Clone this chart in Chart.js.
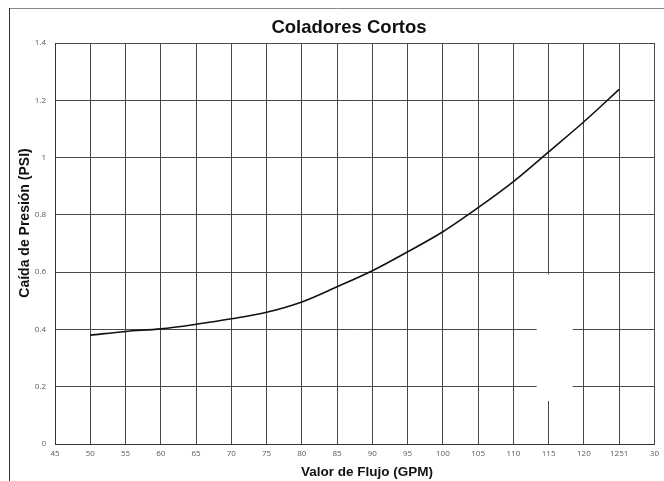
<!DOCTYPE html>
<html>
<head>
<meta charset="utf-8">
<script src="https://cdn.jsdelivr.net/npm/chart.js@4/dist/chart.umd.min.js"></script>
<style>
  html, body { margin: 0; padding: 0; background: #fff; }
  canvas { display: block; }
</style>
</head>
<body>
<canvas id="chart" width="664" height="481"></canvas>
<script>
// Flow rate (GPM) and pressure drop (PSI) for short strainers
const flowGpm = [50, 55, 60, 65, 70, 75, 80, 85, 90, 95, 100, 105, 110, 115, 120, 125];
const dropPsi = [0.380, 0.393, 0.402, 0.418, 0.437, 0.460, 0.496, 0.549, 0.605, 0.671, 0.741, 0.825, 0.916, 1.020, 1.125, 1.238];

// Axis ticks and their printed labels
const xTickValues = [45, 50, 55, 60, 65, 70, 75, 80, 85, 90, 95, 100, 105, 110, 115, 120, 125, 130];
const xTickLabels = ['45', '50', '55', '60', '65', '70', '75', '80', '85', '90', '95', '100', '105', '110', '115', '120', '1251', '30'];
const yTickValues = [0, 0.2, 0.4, 0.6, 0.8, 1.0, 1.2, 1.4];
const yTickLabels = ['0', '0.2', '0.4', '0.6', '0.8', '1', '1.2', '1.4'];

const titleText = 'Coladores Cortos';
const xTitleText = 'Valor de Flujo (GPM)';
const yTitleText = 'Caída de Presión (PSI)';

// Page frame, titles and the blank patch over the grid
const decorations = {
  id: 'decorations',
  beforeDraw(chart) {
    const ctx = chart.ctx;
    ctx.save();
    ctx.fillStyle = '#ffffff';
    ctx.fillRect(0, 0, chart.width, chart.height);
    ctx.lineWidth = 1;
    ctx.strokeStyle = '#888888';
    ctx.beginPath();
    ctx.moveTo(9, 8.5);
    ctx.lineTo(chart.width, 8.5);
    ctx.stroke();
    ctx.strokeStyle = '#333333';
    ctx.beginPath();
    ctx.moveTo(9.5, 8);
    ctx.lineTo(9.5, chart.height);
    ctx.stroke();
    ctx.restore();
  },
  beforeDatasetsDraw(chart) {
    const { ctx, scales: { x, y } } = chart;
    const x0 = x.getPixelForValue(113.3), x1 = x.getPixelForValue(118.4);
    const y0 = y.getPixelForValue(0.592), y1 = y.getPixelForValue(0.15);
    ctx.save();
    ctx.fillStyle = '#ffffff';
    ctx.fillRect(x0, y0, x1 - x0, y1 - y0);
    ctx.restore();
  },
  afterDraw(chart) {
    const ctx = chart.ctx;
    ctx.save();
    ctx.fillStyle = '#111111';
    ctx.textAlign = 'center';
    ctx.textBaseline = 'middle';
    ctx.font = 'bold 18.5px "Liberation Sans", Arial, sans-serif';
    ctx.fillText(titleText, 349, 28);
    ctx.font = 'bold 13.5px "Liberation Sans", Arial, sans-serif';
    ctx.fillText(xTitleText, 367, 472);
    ctx.font = 'bold 14px "Liberation Sans", Arial, sans-serif';
    ctx.translate(25, 223);
    ctx.rotate(-Math.PI / 2);
    ctx.fillText(yTitleText, 0, 0);
    ctx.restore();
  }
};

const tickFont = { family: '"Open Sans", "Liberation Sans", sans-serif', size: 8 };

new Chart(document.getElementById('chart'), {
  type: 'line',
  data: {
    datasets: [{
      data: flowGpm.map((f, i) => ({ x: f, y: dropPsi[i] })),
      borderColor: '#111111',
      borderWidth: 1.6,
      pointRadius: 0,
      fill: false,
      tension: 0.4,
      cubicInterpolationMode: 'monotone'
    }]
  },
  options: {
    responsive: false,
    animation: false,
    devicePixelRatio: 1,
    layout: { padding: { top: 43, right: 9, left: 0, bottom: 0 } },
    plugins: {
      legend: { display: false },
      title: { display: false },
      tooltip: { enabled: false }
    },
    scales: {
      x: {
        type: 'linear',
        min: 45,
        max: 130,
        afterBuildTicks(scale) { scale.ticks = xTickValues.map(v => ({ value: v })); },
        afterFit(scale) { scale.height = 37; },
        ticks: {
          autoSkip: false,
          maxRotation: 0,
          padding: 5,
          color: '#595959',
          font: tickFont,
          callback: (v, i) => xTickLabels[i]
        },
        grid: { color: '#4a4a4a', lineWidth: 1, drawTicks: false },
        border: { display: true, color: '#333333', width: 1 }
      },
      y: {
        min: 0,
        max: 1.4,
        afterBuildTicks(scale) { scale.ticks = yTickValues.map(v => ({ value: v })); },
        afterFit(scale) { scale.width = 55; },
        ticks: {
          autoSkip: false,
          padding: 9,
          color: '#595959',
          font: tickFont,
          callback: (v, i) => yTickLabels[i]
        },
        grid: { color: '#4a4a4a', lineWidth: 1, drawTicks: false },
        border: { display: true, color: '#333333', width: 1 }
      }
    }
  },
  plugins: [decorations]
});
</script>
</body>
</html>
